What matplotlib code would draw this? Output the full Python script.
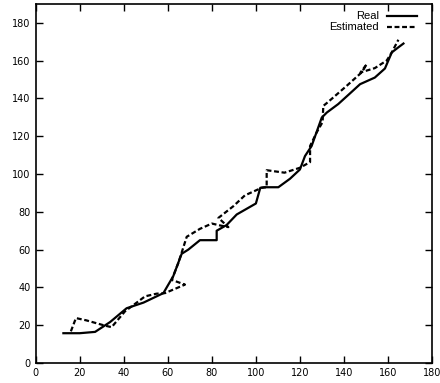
import matplotlib
matplotlib.use("Agg")
import matplotlib.pyplot as plt

# Real trajectory
real_x = [12.6, 20, 27, 33.8, 41.3, 49, 58, 62.5, 66.3, 69.3, 74.6, 82.2, 82.2, 86.7,
          91.3, 100, 102, 103.8, 110.2, 115.5, 120, 122.3, 125.3, 129.9, 132.2, 137.4,
          142.7, 147.3, 154, 158.6, 161.7, 164.7, 167]
real_y = [15.8, 15.8, 16.5, 21.7, 29, 32, 37, 46, 57.8, 60, 65, 65, 70, 73,
          78.6, 84.4, 92.7, 93, 93, 97.5, 102.4, 109.5, 114.8, 129.8, 132.5, 137,
          142.6, 147.5, 151, 155.8, 164.3, 167, 169]

# Estimated trajectory
est_x = [16, 18.3, 23, 31.5, 34.5, 40.6, 43.6, 49.7, 54.9, 58.7, 67.8, 61.8, 64.8,
         68.6, 74.6, 80, 83.7, 87.5, 83, 89.8, 95, 102.6, 104.9, 104.9, 113, 120,
         124.6, 124.6, 127.6, 130.3, 130.6, 133, 141.2, 148, 150.3, 147.5, 154,
         159.4, 161.7, 164.7]
est_y = [16.8, 23.8, 22.6, 19.8, 19, 27.4, 30, 35.3, 36.7, 37, 41.5, 44, 53,
         66.8, 71, 73.8, 72.8, 71.9, 76.8, 83, 88.7, 92.7, 93, 102, 100.7, 103.3,
         106.3, 114.8, 122, 127.5, 136, 138.3, 146.6, 153.7, 158, 153.7, 156,
         160, 164.3, 171]

labels = ['Real', 'Estimated']
dash = (0, (2.2, 1.2))

fig = plt.figure(figsize=(4.4, 3.83), dpi=100)
ax = fig.add_axes([0.081, 0.052, 0.901, 0.938])

ax.plot(real_x, real_y, color='black', lw=1.6)
ax.plot(est_x, est_y, color='black', lw=1.6, ls=dash)

ax.set_xlim(0, 180)
ax.set_ylim(0, 190)
ax.set_xticks(range(0, 181, 20))
ax.set_yticks(range(0, 181, 20))
ax.tick_params(direction='in', top=True, right=True, labelsize=7, length=5, width=1)
for s in ax.spines.values():
    s.set_linewidth(1.2)

# gnuplot-style key: right-aligned text, sample line on the right
for i, (lab, ls) in enumerate(zip(labels, ['-', dash])):
    yy = 0.967 - i * 0.031
    ax.text(0.866, yy, lab, transform=ax.transAxes, ha='right', va='center',
            fontsize=8, family='Liberation Sans')
    ax.plot([0.886, 0.962], [yy, yy], transform=ax.transAxes, color='black',
            lw=1.6, ls=ls)

fig.savefig('out.png', dpi=100)
